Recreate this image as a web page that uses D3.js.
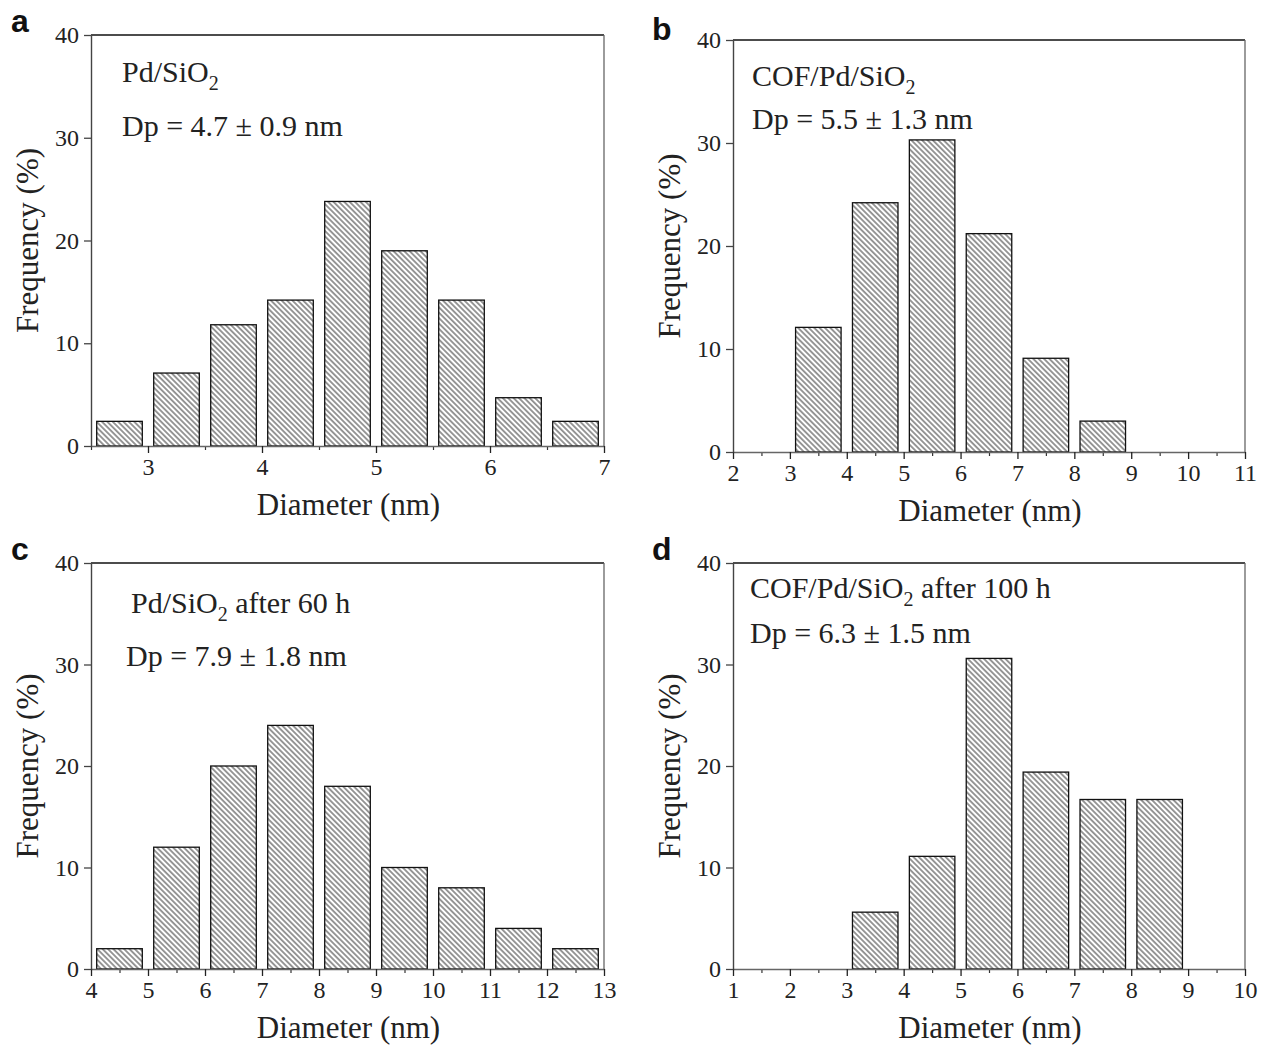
<!DOCTYPE html>
<html>
<head>
<meta charset="utf-8">
<script src="https://cdn.jsdelivr.net/npm/d3@7"></script>
<style>
  body { margin: 0; background: #fff; }
  text { font-family: "Liberation Serif", "Times New Roman", serif; fill: #222; }
  .tag { font-family: "Liberation Sans", Arial, sans-serif; font-weight: bold; fill: #111; }
</style>
</head>
<body>
<div id="chart"></div>
<script>
// Data

let centersA = [2.75, 3.25, 3.75, 4.25, 4.75, 5.25, 5.75, 6.25, 6.75]
let freqA = [2.4, 7.1, 11.8, 14.2, 23.8, 19.0, 14.2, 4.7, 2.4]

let centersB = [3.5, 4.5, 5.5, 6.5, 7.5, 8.5]
let freqB = [12.1, 24.2, 30.3, 21.2, 9.1, 3.0]

let centersC = [4.5, 5.5, 6.5, 7.5, 8.5, 9.5, 10.5, 11.5, 12.5]
let freqC = [2, 12, 20, 24, 18, 10, 8, 4, 2]

let centersD = [3.5, 4.5, 5.5, 6.5, 7.5, 8.5]
let freqD = [5.6, 11.1, 30.6, 19.4, 16.7, 16.7]

let ticksA = [3, 4, 5, 6, 7]
let ticksB = [2, 3, 4, 5, 6, 7, 8, 9, 10, 11]
let ticksC = [4, 5, 6, 7, 8, 9, 10, 11, 12, 13]
let ticksD = [1, 2, 3, 4, 5, 6, 7, 8, 9, 10]
let yTicks = [0, 10, 20, 30, 40]

let attrs = function (map) {
  for (let k in map) this.attr(k, map[k])
  return this
}
d3.selection.prototype.attrs = attrs

let width = 1261
let height = 1048
let serif = `Liberation Serif, Times New Roman, serif`

let svg = d3.select(`#chart`)
  .append(`svg`)
  .attrs({ width, height })

// Hatch fill

svg.append(`defs`)
  .append(`pattern`)
  .attrs({
    id: `hatch`,
    patternUnits: `userSpaceOnUse`,
    width: 3.8,
    height: 3.8,
    patternTransform: `rotate(-45)`,
  })
  .append(`line`)
  .attrs({ x1: 1.9, y1: 0, x2: 1.9, y2: 3.8, stroke: `#333`, 'stroke-width': 1 })

let panels = [
  { tag: `a`, tagX: 11, tagY: 32, left: 91, right: 604, top: 35, bottom: 446,
    domain: [2.5, 7], binW: 0.5, centers: centersA, freq: freqA, ticks: ticksA,
    lines: [{ x: 122, y: 82, parts: [[`Pd/SiO`], [`2`, true]] },
            { x: 122, y: 136, parts: [[`Dp = 4.7 ± 0.9 nm`]] }] },
  { tag: `b`, tagX: 652, tagY: 40, left: 733, right: 1245, top: 40, bottom: 452,
    domain: [2, 11], binW: 1, centers: centersB, freq: freqB, ticks: ticksB,
    lines: [{ x: 752, y: 86, parts: [[`COF/Pd/SiO`], [`2`, true]] },
            { x: 752, y: 129, parts: [[`Dp = 5.5 ± 1.3 nm`]] }] },
  { tag: `c`, tagX: 11, tagY: 560, left: 91, right: 604, top: 563, bottom: 969,
    domain: [4, 13], binW: 1, centers: centersC, freq: freqC, ticks: ticksC,
    lines: [{ x: 131, y: 613, parts: [[`Pd/SiO`], [`2`, true], [` after 60 h`]] },
            { x: 126, y: 666, parts: [[`Dp = 7.9 ± 1.8 nm`]] }] },
  { tag: `d`, tagX: 652, tagY: 560, left: 733, right: 1245, top: 563, bottom: 969,
    domain: [1, 10], binW: 1, centers: centersD, freq: freqD, ticks: ticksD,
    lines: [{ x: 750, y: 598, parts: [[`COF/Pd/SiO`], [`2`, true], [` after 100 h`]] },
            { x: 750, y: 643, parts: [[`Dp = 6.3 ± 1.5 nm`]] }] },
]

panels.forEach(p => {
  let g = svg.append(`g`)

  let x = d3.scaleLinear().domain(p.domain).range([p.left, p.right])
  let y = d3.scaleLinear().domain([0, 40]).range([p.bottom, p.top])

  // Bars

  g.selectAll(`rect.bar`)
    .data(p.centers.map((c, i) => ({ c, f: p.freq[i] })))
    .join(`rect`)
    .attrs({
      class: `bar`,
      x: d => x(d.c - p.binW * 0.4),
      y: d => y(d.f),
      width: d => x(d.c + p.binW * 0.4) - x(d.c - p.binW * 0.4),
      height: d => y(0) - y(d.f),
      fill: `url(#hatch)`,
      stroke: `#111`,
      'stroke-width': 1.3,
    })

  // Frame (top, right)

  g.append(`line`)
    .attrs({ x1: p.left, y1: p.top, x2: p.right, y2: p.top, stroke: `#111`, 'stroke-width': 1.3 })
  g.append(`line`)
    .attrs({ x1: p.right, y1: p.top, x2: p.right, y2: p.bottom, stroke: `#666`, 'stroke-width': 1.3 })

  // Minor x ticks at half steps

  let step = p.ticks[1] - p.ticks[0]
  let minors = d3.range(p.domain[0], p.domain[1] + 1e-9, step / 2)
    .filter(v => !p.ticks.some(t => Math.abs(t - v) < 1e-9))

  g.append(`g`)
    .attr(`transform`, `translate(0,${p.bottom})`)
    .call(d3.axisBottom(x).tickValues(minors).tickSize(4).tickFormat(``))
    .call(s => s.select(`.domain`).remove())
    .call(s => s.selectAll(`line`).attrs({ stroke: `#333`, 'stroke-width': 1.2 }))

  // X axis

  g.append(`g`)
    .attr(`transform`, `translate(0,${p.bottom})`)
    .call(d3.axisBottom(x).tickValues(p.ticks).tickFormat(d3.format(`d`))
      .tickSize(7).tickSizeOuter(0).tickPadding(5))
    .attrs({ 'font-family': serif, 'font-size': 24 })
    .call(s => s.select(`.domain`).attrs({ stroke: `#666`, 'stroke-width': 1.4 }))
    .call(s => s.selectAll(`.tick line`).attrs({ stroke: `#222`, 'stroke-width': 1.3 }))
    .call(s => s.selectAll(`.tick text`).attr(`fill`, `#222`))

  // Y axis

  g.append(`g`)
    .attr(`transform`, `translate(${p.left},0)`)
    .call(d3.axisLeft(y).tickValues(yTicks).tickSize(7).tickSizeOuter(0).tickPadding(5))
    .attrs({ 'font-family': serif, 'font-size': 24 })
    .call(s => s.select(`.domain`).attrs({ stroke: `#444`, 'stroke-width': 1.4 }))
    .call(s => s.selectAll(`.tick line`).attrs({ stroke: `#444`, 'stroke-width': 1.3 }))
    .call(s => s.selectAll(`.tick text`).attr(`fill`, `#222`))

  // Axis titles

  g.append(`text`)
    .attrs({ x: (p.left + p.right) / 2 + 1, y: p.bottom + 69, 'text-anchor': `middle`, 'font-size': 31 })
    .text(`Diameter (nm)`)

  g.append(`text`)
    .attrs({
      transform: `translate(${p.left - 53},${(p.top + p.bottom) / 2}) rotate(-90)`,
      'text-anchor': `middle`,
      'font-size': 31,
    })
    .text(`Frequency (%)`)

  // Annotations

  p.lines.forEach(l => {
    let t = g.append(`text`).attrs({ x: l.x, y: l.y, 'font-size': 30 })
    l.parts.forEach(([s, sub]) => {
      let ts = t.append(`tspan`).text(s)
      if (sub) ts.attrs({ 'font-size': 20, dy: 8 })
      else if (t.selectAll(`tspan`).size() > 1) ts.attr(`dy`, -8)
    })
  })

  // Panel tag

  g.append(`text`)
    .attrs({ class: `tag`, x: p.tagX, y: p.tagY, 'font-size': 32 })
    .text(p.tag)
})
</script>
</body>
</html>
